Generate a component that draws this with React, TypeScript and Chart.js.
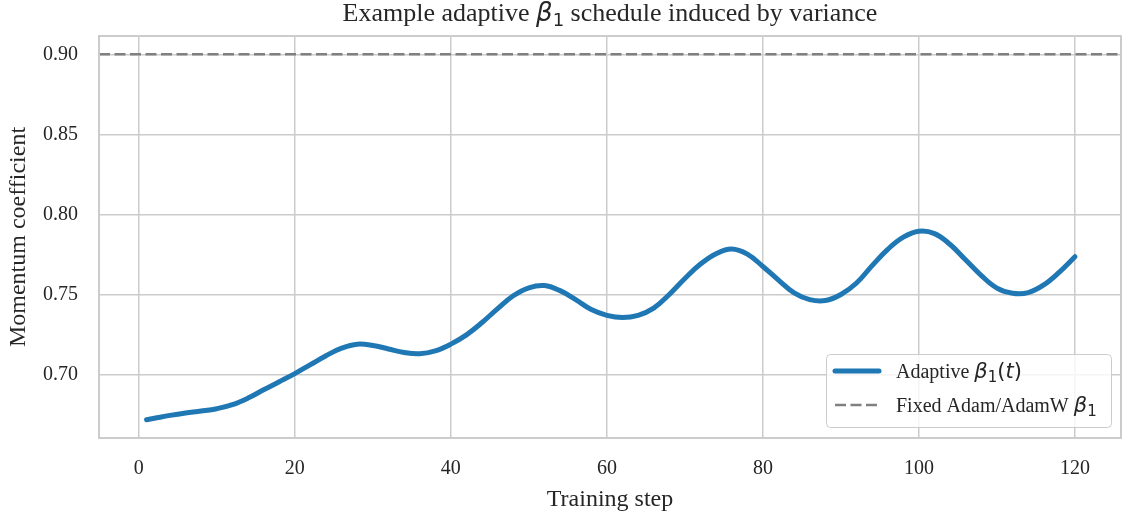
import React, { useEffect, useRef } from 'react';
import { Chart, registerables } from 'chart.js';

Chart.register(...registerables);

// ---- data ----
const STEPS = [1, 2, 4, 6, 8, 10, 12, 14, 16, 18, 20, 22, 24, 26, 28, 30, 32, 34, 36, 38, 40, 42, 44, 46, 48, 50, 52, 54, 56, 58, 60, 62, 64, 66, 68, 70, 72, 74, 76, 78, 80, 82, 84, 86, 88, 90, 92, 94, 96, 98, 100, 102, 104, 106, 108, 110, 112, 114, 116, 118, 120];
const ADAPTIVE_BETA1 = [0.6718, 0.6727, 0.6745, 0.676, 0.6772, 0.6787, 0.6812, 0.6853, 0.6905, 0.6955, 0.7006, 0.7062, 0.7118, 0.7165, 0.719, 0.7182, 0.716, 0.7138, 0.713, 0.7148, 0.719, 0.7248, 0.7325, 0.7412, 0.7492, 0.7542, 0.7556, 0.7524, 0.7468, 0.7406, 0.737, 0.7356, 0.737, 0.7415, 0.75, 0.76, 0.769, 0.7755, 0.7784, 0.7752, 0.7675, 0.759, 0.751, 0.7468, 0.7462, 0.75, 0.7572, 0.768, 0.7782, 0.7858, 0.7895, 0.788, 0.7812, 0.7715, 0.7618, 0.754, 0.7508, 0.7512, 0.756, 0.764, 0.7736];
const FIXED_BETA1 = 0.9;
const X_MIN = -5.1;
const X_MAX = 125.9;
const X_TICKS = [0, 20, 40, 60, 80, 100, 120];
const Y_TICKS = [0.7, 0.75, 0.8, 0.85, 0.9];

const X_LABEL = 'Training step';
const Y_LABEL = 'Momentum coefficient';
const TITLE_BEFORE = 'Example adaptive ';
const TITLE_AFTER = ' schedule induced by variance';
const LEGEND_ADAPTIVE = 'Adaptive ';
const LEGEND_FIXED = 'Fixed Adam/AdamW ';

// ---- style ----
const SERIF = "'Liberation Serif', 'Times New Roman', serif";
const MATH = "'DejaVu Sans', sans-serif";
const TEXT = '#262626';
const BLUE = '#1f77b4';
const GRAY = '#808080';
const GRID = '#cccccc';

type Run = { t: string; font: string; dy?: number };

function runsWidth(ctx: CanvasRenderingContext2D, runs: Run[]) {
  let w = 0;
  for (const r of runs) { ctx.font = r.font; w += ctx.measureText(r.t).width; }
  return w;
}
function drawRuns(ctx: CanvasRenderingContext2D, runs: Run[], x: number, y: number) {
  let cx = x;
  ctx.textBaseline = 'alphabetic';
  ctx.textAlign = 'left';
  for (const r of runs) {
    ctx.font = r.font;
    ctx.fillText(r.t, cx, y + (r.dy || 0));
    cx += ctx.measureText(r.t).width;
  }
}

function beta1Runs(size: number): Run[] {
  return [
    { t: 'β', font: `italic ${size}px ${MATH}` },
    { t: '1', font: `${Math.round(size * 0.7)}px ${MATH}`, dy: size * 0.2 },
  ];
}

const decorPlugin = {
  id: 'decor',
  afterDraw(chart: any) {
    const ctx: CanvasRenderingContext2D = chart.ctx;
    const a = chart.chartArea;
    ctx.save();
    // frame (spines)
    ctx.strokeStyle = GRID;
    ctx.lineWidth = 2;
    ctx.strokeRect(a.left, a.top, a.right - a.left, a.bottom - a.top);

    // title
    ctx.fillStyle = TEXT;
    const tRuns: Run[] = [
      { t: TITLE_BEFORE, font: `26px ${SERIF}` },
      ...beta1Runs(26),
      { t: TITLE_AFTER, font: `26px ${SERIF}` },
    ];
    const tw = runsWidth(ctx, tRuns);
    drawRuns(ctx, tRuns, (a.left + a.right) / 2 - tw / 2, 21);

    // legend
    const bw = 285, bh = 73;
    const bx = a.right - 10 - bw;
    const by = a.bottom - 11 - bh;
    ctx.beginPath();
    (ctx as any).roundRect(bx + 0.5, by + 0.5, bw, bh, 4);
    ctx.fillStyle = 'rgba(255,255,255,0.8)';
    ctx.fill();
    ctx.strokeStyle = '#cccccc';
    ctx.lineWidth = 1;
    ctx.stroke();

    const y1 = by + 17, y2 = by + 51;
    ctx.lineCap = 'round';
    ctx.strokeStyle = BLUE;
    ctx.lineWidth = 5;
    ctx.beginPath(); ctx.moveTo(bx + 9, y1); ctx.lineTo(bx + 53, y1); ctx.stroke();
    ctx.lineCap = 'butt';
    ctx.strokeStyle = GRAY;
    ctx.lineWidth = 2.5;
    ctx.setLineDash([11, 4.5]);
    ctx.beginPath(); ctx.moveTo(bx + 9, y2); ctx.lineTo(bx + 53, y2); ctx.stroke();
    ctx.setLineDash([]);

    ctx.fillStyle = TEXT;
    drawRuns(ctx, [
      { t: LEGEND_ADAPTIVE, font: `20px ${SERIF}` },
      ...beta1Runs(21),
      { t: '(', font: `21px ${MATH}` },
      { t: 't', font: `italic 21px ${MATH}` },
      { t: ')', font: `21px ${MATH}` },
    ], bx + 70, y1 + 7);
    drawRuns(ctx, [
      { t: LEGEND_FIXED, font: `20px ${SERIF}` },
      ...beta1Runs(21),
    ], bx + 70, y2 + 7);
    ctx.restore();
  },
};

export default function App() {
  const ref = useRef<HTMLCanvasElement | null>(null);
  useEffect(() => {
    document.body.style.margin = '0';
    const canvas = ref.current;
    if (!canvas) return;

    const yLo = Math.min(...ADAPTIVE_BETA1, FIXED_BETA1);
    const yHi = Math.max(...ADAPTIVE_BETA1, FIXED_BETA1);
    const yMin = yLo - 0.05 * (yHi - yLo);
    const yMax = yHi + 0.05 * (yHi - yLo);

    const chart = new Chart(canvas, {
      type: 'line',
      data: {
        datasets: [
          {
            label: 'Adaptive β1(t)',
            data: STEPS.map((s, i) => ({ x: s, y: ADAPTIVE_BETA1[i] })),
            borderColor: BLUE,
            borderWidth: 5,
            pointRadius: 0,
            tension: 0.4,
            borderCapStyle: 'round',
            borderJoinStyle: 'round',
            fill: false,
          },
          {
            label: 'Fixed Adam/AdamW β1',
            data: [{ x: X_MIN, y: FIXED_BETA1 }, { x: X_MAX, y: FIXED_BETA1 }],
            borderColor: GRAY,
            borderWidth: 2.5,
            borderDash: [11, 4.5],
            pointRadius: 0,
            fill: false,
          },
        ],
      },
      options: {
        responsive: false,
        animation: false,
        devicePixelRatio: 1,
        events: [],
        layout: { padding: { top: 36, right: 2, left: 0, bottom: 0 } },
        plugins: {
          legend: { display: false },
          title: { display: false },
          tooltip: { enabled: false },
        },
        scales: {
          x: {
            type: 'linear',
            min: X_MIN,
            max: X_MAX,
            afterBuildTicks: (s: any) => { s.ticks = X_TICKS.map((v) => ({ value: v })); },
            afterFit: (s: any) => { s.height = 78; },
            grid: { color: GRID, lineWidth: 1.5, drawTicks: false },
            border: { display: false },
            ticks: {
              padding: 19,
              color: TEXT,
              font: { family: SERIF, size: 20 },
              maxRotation: 0,
              autoSkip: false,
              callback: (v: any) => String(v),
            },
            title: {
              display: true,
              text: X_LABEL,
              color: TEXT,
              font: { family: SERIF, size: 24 },
              padding: { top: 0, bottom: 2 },
            },
          },
          y: {
            type: 'linear',
            min: yMin,
            max: yMax,
            afterBuildTicks: (s: any) => { s.ticks = Y_TICKS.map((v) => ({ value: v })); },
            afterFit: (s: any) => { s.width = 99; },
            grid: { color: GRID, lineWidth: 1.5, drawTicks: false },
            border: { display: false },
            ticks: {
              padding: 21,
              color: TEXT,
              font: { family: SERIF, size: 20 },
              autoSkip: false,
              callback: (v: any) => Number(v).toFixed(2),
            },
            title: {
              display: true,
              text: Y_LABEL,
              color: TEXT,
              font: { family: SERIF, size: 24 },
              padding: { top: 4, bottom: 0 },
            },
          },
        },
      },
      plugins: [decorPlugin],
    } as any);
    return () => chart.destroy();
  }, []);

  return (
    <div style={{ width: 1123, height: 516 }}>
      <canvas ref={ref} width={1123} height={516} style={{ display: 'block' }} />
    </div>
  );
}
